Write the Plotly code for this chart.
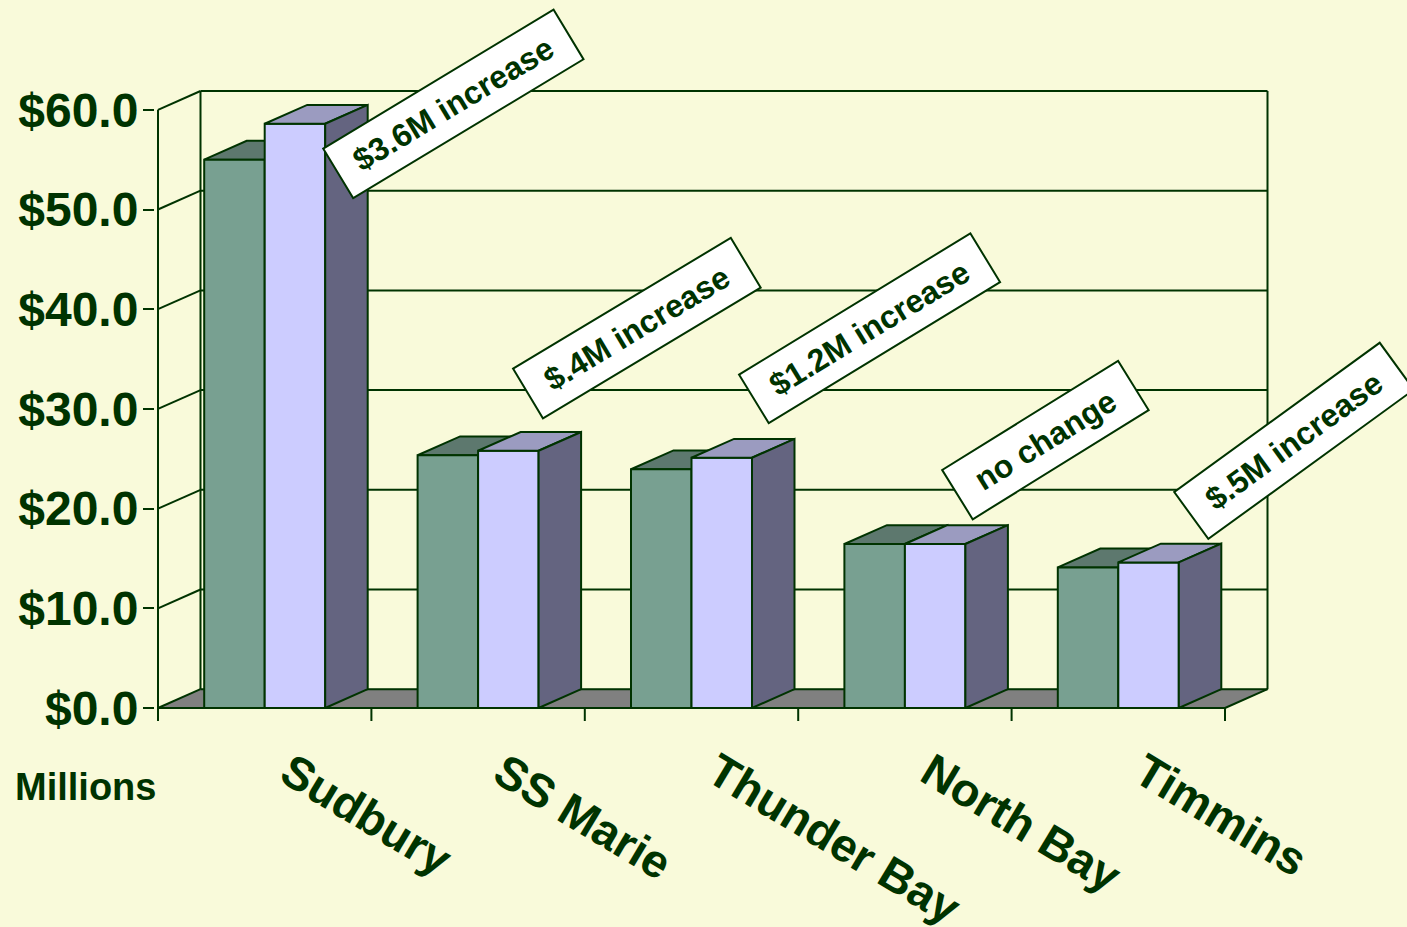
import plotly.graph_objects as go

# ---------------- data ----------------
categories = ["Sudbury", "SS Marie", "Thunder Bay", "North Bay", "Timmins"]
series_a = [55.0, 25.35, 23.95, 16.45, 14.1]   # earlier year (green)
series_b = [58.6, 25.8, 25.1, 16.45, 14.6]     # later year (lavender)
callout_texts = ["$3.6M increase", "$.4M increase", "$1.2M increase", "no change", "$.5M increase"]
y_tickvals = [0, 10, 20, 30, 40, 50, 60]
y_ticktext = ["$0.0", "$10.0", "$20.0", "$30.0", "$40.0", "$50.0", "$60.0"]
y_unit_label = "Millions"

# ---------------- layout constants (pixels) ----------------
W, H = 1407, 927
AX_PX = 158                                   # px of the front y axis (x=-0.5)
PL, PR, PT, PB = 155, 1300, 60, 730           # plot area edges in px
CAT_W = 213.4                                 # px per category
Y0_PX, PX_PER = 708, 9.97                     # y=0 pixel, px per unit
DEPTH_PX = (42.5, 18.8)
XTICK_LEN_PX = 13

XR = [-0.5 - (AX_PX - PL) / CAT_W, -0.5 + (PR - AX_PX) / CAT_W]
YR = [-(PB - Y0_PX) / PX_PER, (Y0_PX - PT) / PX_PER]
DX = DEPTH_PX[0] / CAT_W
DY = DEPTH_PX[1] / PX_PER
BW = 60.5 / CAT_W

GREEN = "#003300"
BG = "#F9FADA"
C_A_FRONT, C_A_TOP = "#78A091", "#5D786E"
C_B_FRONT, C_B_TOP, C_B_SIDE = "#CCCCFF", "#9B9BC0", "#646480"
FLOOR = "#808080"
FONT = "Liberation Sans"


def px2data(px, py):
    return -0.5 + (px - AX_PX) / CAT_W, (Y0_PX - py) / PX_PER


def px2paper(px, py):
    return (px - PL) / (PR - PL), (PB - py) / (PB - PT)


fig = go.Figure()


def add_poly(polys, fill, width=2, color=GREEN):
    xs, ys = [], []
    for p in polys:
        for (a, b) in p + [p[0]]:
            xs.append(a)
            ys.append(b)
        xs.append(None)
        ys.append(None)
    fig.add_trace(go.Scatter(x=xs, y=ys, mode="lines", fill="toself", fillcolor=fill,
                             line=dict(color=color, width=width), hoverinfo="skip",
                             showlegend=False))


def add_lines(segs, width=2):
    xs, ys = [], []
    for (a, b) in segs:
        xs += [a[0], b[0], None]
        ys += [a[1], b[1], None]
    fig.add_trace(go.Scatter(x=xs, y=ys, mode="lines", line=dict(color=GREEN, width=width),
                             hoverinfo="skip", showlegend=False))


n = len(categories)
xl, xr = -0.5, n - 0.5
ymax = y_tickvals[-1]

# floor
add_poly([[(xl, 0), (xr, 0), (xr + DX, DY), (xl + DX, DY)]], FLOOR, width=0.5, color=FLOOR)

# walls / gridlines
segs = []
for v in y_tickvals:
    segs.append(((xl, v), (xl + DX, v + DY)))            # left wall
    segs.append(((xl + DX, v + DY), (xr + DX, v + DY)))  # back wall
segs.append(((xl + DX, DY), (xl + DX, ymax + DY)))
segs.append(((xr + DX, DY), (xr + DX, ymax + DY)))
segs.append(((xr, 0), (xr + DX, DY)))
add_lines(segs)

# bars
def bar_faces(vals, offset):
    fronts, tops, sides = [], [], []
    for i, v in enumerate(vals):
        x0 = i - BW + offset * BW
        x1 = x0 + BW
        fronts.append([(x0, 0), (x1, 0), (x1, v), (x0, v)])
        tops.append([(x0, v), (x1, v), (x1 + DX, v + DY), (x0 + DX, v + DY)])
        sides.append([(x1, 0), (x1 + DX, DY), (x1 + DX, v + DY), (x1, v)])
    return fronts, tops, sides

fa, ta, sa = bar_faces(series_a, 0)
fb, tb, sb = bar_faces(series_b, 1)
add_poly(sa, C_A_TOP)
add_poly(ta, C_A_TOP)
add_poly(fa, C_A_FRONT)
add_poly(fb, C_B_FRONT)
add_poly(tb, C_B_TOP)
add_poly(sb, C_B_SIDE)

# front axes + category boundary ticks
tick_dy = XTICK_LEN_PX / PX_PER
axis_segs = [((xl, 0), (xr, 0)), ((xl, 0), (xl, ymax))]
for k in range(n + 1):
    axis_segs.append(((k - 0.5, 0), (k - 0.5, -tick_dy)))
add_lines(axis_segs)

annotations = []

# callouts (center px, angle, box length, box height)
callout_layout = [
    ((453.3, 104.2), -31.1, 271, 60),
    ((637.2, 328.3), -31.0, 256, 60),
    ((869.2, 328.3), -31.4, 273, 59),
    ((1045.6, 440.2), -31.8, 209, 60),
    ((1293.8, 440.9), -36.0, 256, 60),
]
for txt, (c, ang, L, Hh) in zip(callout_texts, callout_layout):
    x, y = px2data(*c)
    annotations.append(dict(
        x=x, y=y, xref="x", yref="y", text=txt, showarrow=False, textangle=ang,
        font=dict(family=FONT, size=32, color=GREEN, weight="bold"),
        bgcolor="white", bordercolor=GREEN, borderwidth=2, borderpad=1,
        width=L - 6, height=Hh - 6, xanchor="center", yanchor="middle"))

# category labels
for i, cat in enumerate(categories):
    cx_px = AX_PX + (i + 0.5) * CAT_W + 5
    px_, py_ = px2paper(cx_px, 741)
    annotations.append(dict(
        x=px_, y=py_, xref="paper", yref="paper", text=cat, showarrow=False,
        textangle=31, xanchor="left", yanchor="top",
        font=dict(family=FONT, size=46.5, color=GREEN, weight="bold")))

# unit label
ux, uy = px2paper(85, 787)
annotations.append(dict(
    x=ux, y=uy, xref="paper", yref="paper", text=y_unit_label, showarrow=False,
    xanchor="center", yanchor="middle",
    font=dict(family=FONT, size=38, color=GREEN, weight="bold")))

fig.update_layout(
    width=W, height=H,
    margin=dict(l=PL, r=W - PR, t=PT, b=H - PB, pad=0),
    paper_bgcolor=BG, plot_bgcolor=BG,
    showlegend=False,
    xaxis=dict(range=XR, showgrid=False, zeroline=False, showline=False,
               showticklabels=False, ticks="", fixedrange=True),
    yaxis=dict(range=YR, showgrid=False, zeroline=False, showline=False,
               tickvals=y_tickvals, ticktext=y_ticktext, ticks="outside", ticklen=11,
               tickwidth=2, tickcolor=GREEN, ticklabelstandoff=-5,
               tickfont=dict(family=FONT, size=48, color=GREEN, weight="bold"),
               fixedrange=True),
    annotations=annotations,
)

fig.write_html(
    "out.html",
    config={"displayModeBar": False, "responsive": False},
    post_script="document.body.style.margin='0';document.body.style.overflow='hidden';"
                "document.body.style.background='" + BG + "';",
)
